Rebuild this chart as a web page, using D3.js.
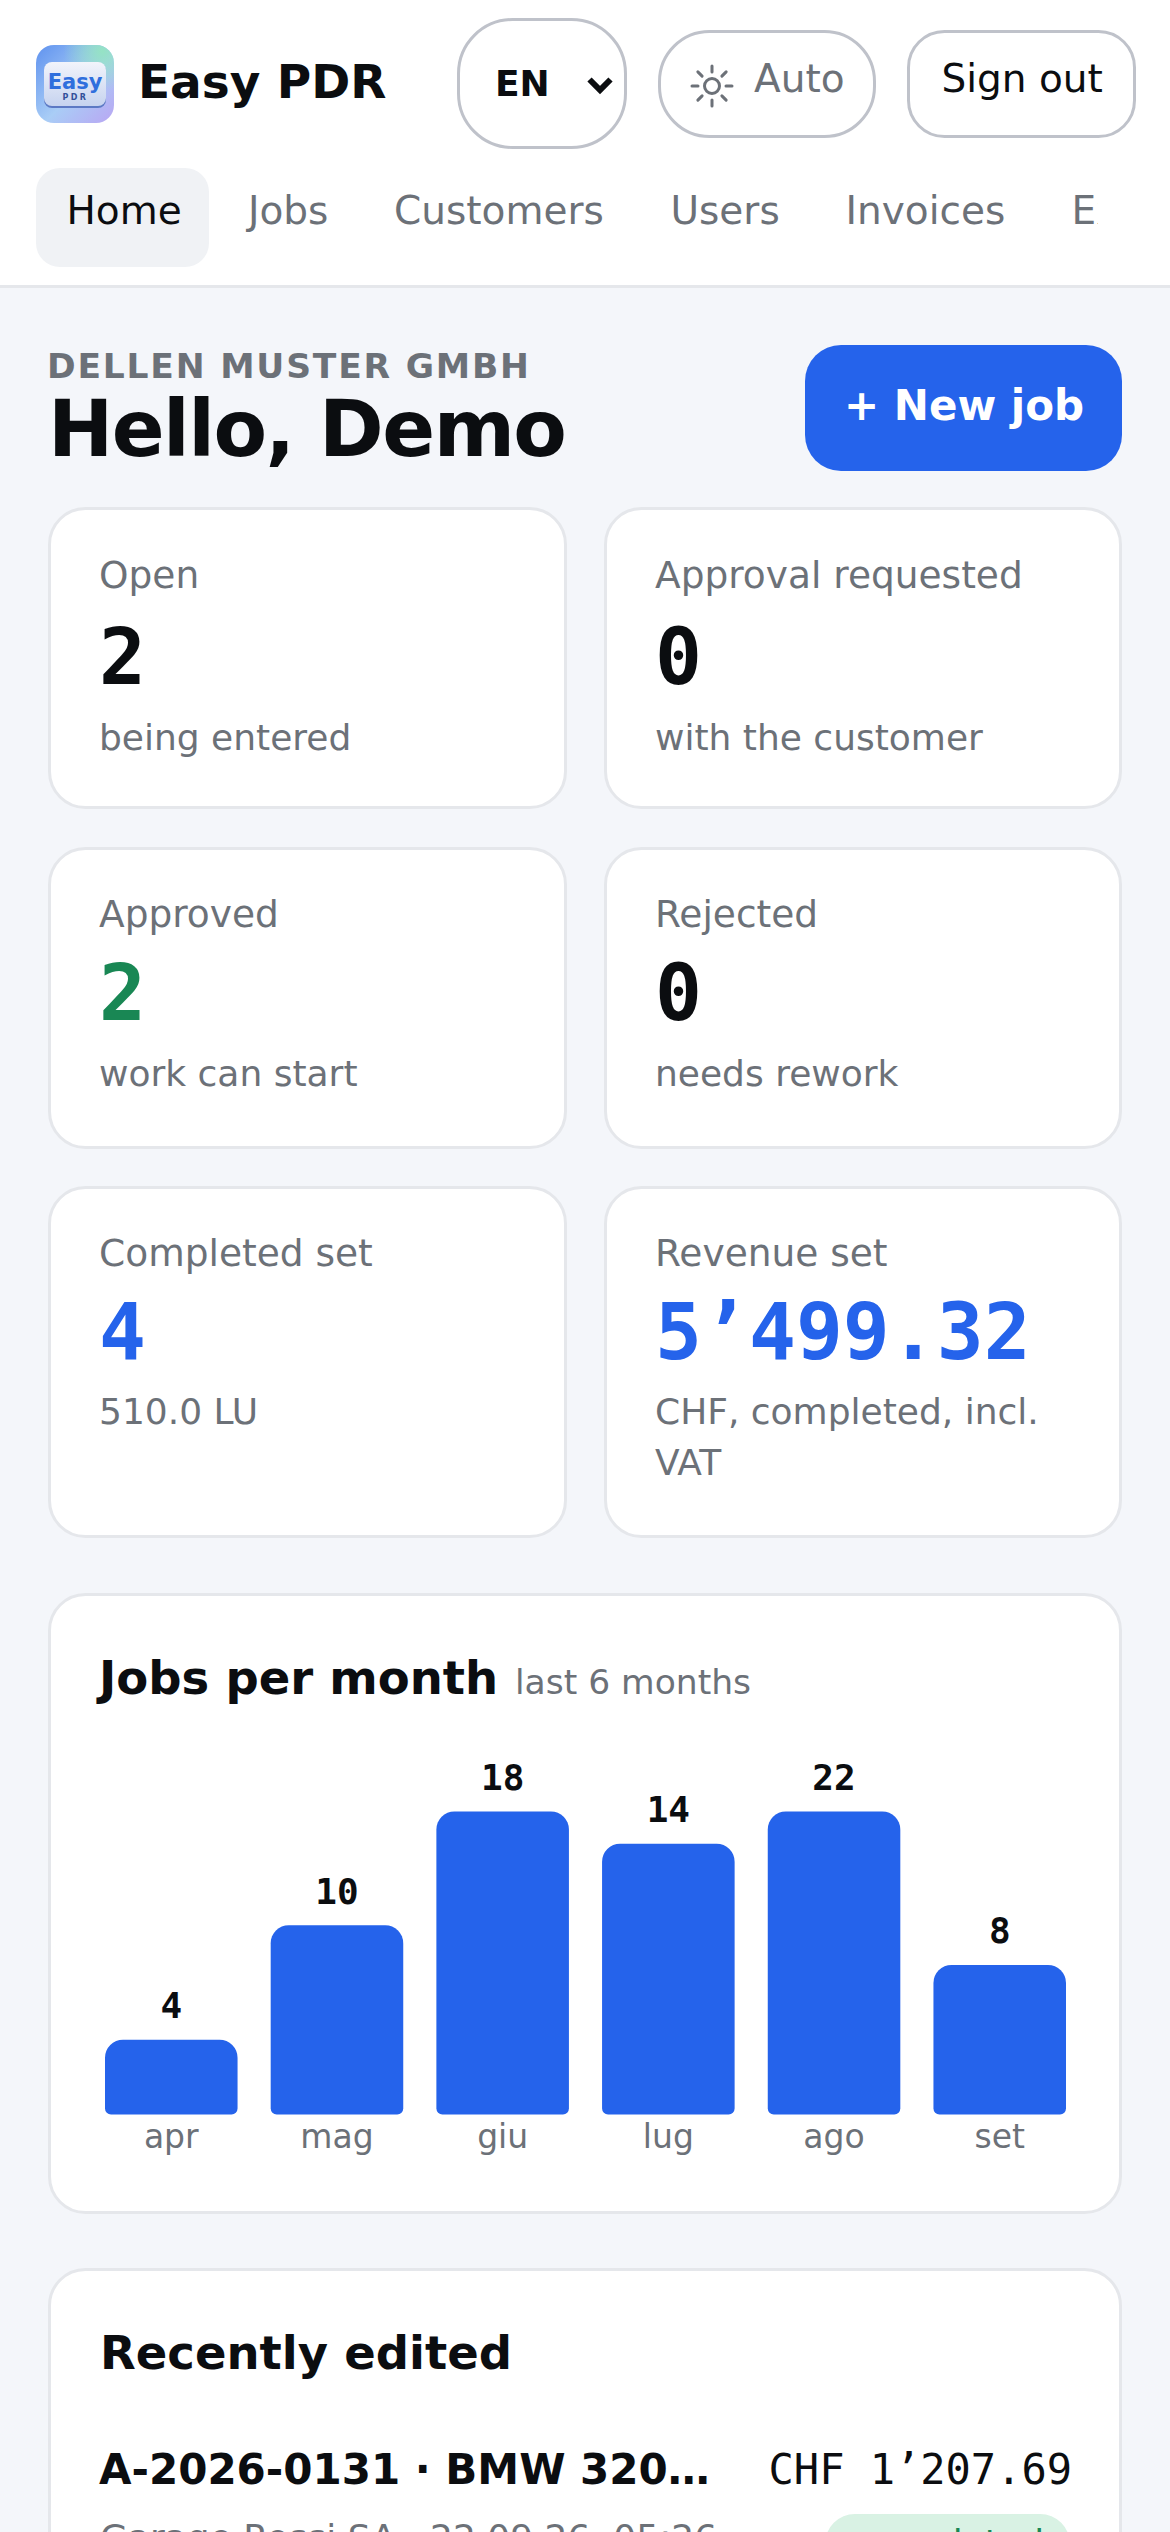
<!DOCTYPE html>
<html lang="en">
<head>
  <meta charset="UTF-8">
  <title>Easy PDR</title>
  <script src="https://d3js.org/d3.v7.min.js"></script>
  <style>
    html, body { margin: 0; background: #f4f6fa; overflow: hidden; }
    svg { display: block; }
    text { font-family: "DejaVu Sans", sans-serif; }
    .mono { font-family: "DejaVu Sans Mono", monospace; }
  </style>
</head>
<body>
  <div id="page"></div>

  <script>
    // chart data
    const months = ["apr", "mag", "giu", "lug", "ago", "set"];
    const jobCounts = [4, 10, 18, 14, 22, 8];
    // bar heights, they are capped near 16 jobs
    const barLevels = [3.95, 10, 16, 14.3, 16, 7.9];

    // stat cards
    const statLabels = ["Open", "Approval requested", "Approved", "Rejected", "Completed set", "Revenue set"];
    const statValues = ["2", "0", "2", "0", "4", "5’499.32"];
    const statNotes = [["being entered"], ["with the customer"], ["work can start"], ["needs rework"], ["510.0 LU"], ["CHF, completed, incl.", "VAT"]];
    const statColors = ["#0b0d10", "#0b0d10", "#198754", "#0b0d10", "#2563eb", "#2563eb"];

    // nav
    const navItems = ["Home", "Jobs", "Customers", "Users", "Invoices", "Exports"];
    const navX = [66.5, 248, 394, 670.5, 845.5, 1071.5];

    const width = 1170, height = 2532;
    const grey = "#6c7178", ink = "#0b0d10", blue = "#2563eb", line = "#e5e7eb";

    const svg = d3.select("#page").append("svg")
      .attr("width", width)
      .attr("height", height)
      .attr("viewBox", `0 0 ${width} ${height}`);

    const defs = svg.append("defs");

    // small helper for plain text
    function label(parent, str, x, y, size, color, opts = {}) {
      return parent.append("text")
        .attr("class", opts.cls || null)
        .attr("x", x)
        .attr("y", y)
        .attr("font-size", size)
        .attr("font-weight", opts.weight || 400)
        .attr("text-anchor", opts.anchor || "start")
        .attr("letter-spacing", opts.spacing || null)
        .attr("fill", color)
        .text(str);
    }

    function card(x, y, w, h) {
      svg.append("rect")
        .attr("x", x + 1.5).attr("y", y + 1.5)
        .attr("width", w - 3).attr("height", h - 3)
        .attr("rx", 36)
        .attr("fill", "#fff")
        .attr("stroke", line)
        .attr("stroke-width", 3);
    }

    // page background and header
    svg.append("rect").attr("width", width).attr("height", height).attr("fill", "#f4f6fa");
    svg.append("rect").attr("width", width).attr("height", 285).attr("fill", "#fff");
    svg.append("rect").attr("y", 285).attr("width", width).attr("height", 3).attr("fill", line);

    // logo
    const logoBase = defs.append("linearGradient").attr("id", "logoBase")
      .attr("x1", 0).attr("y1", 0).attr("x2", 1).attr("y2", 1);
    logoBase.append("stop").attr("offset", 0).attr("stop-color", "#5f92ef");
    logoBase.append("stop").attr("offset", 0.55).attr("stop-color", "#a9cdf6");
    logoBase.append("stop").attr("offset", 1).attr("stop-color", "#b9a6f3");
    const logoGreen = defs.append("radialGradient").attr("id", "logoGreen")
      .attr("cx", 0.85).attr("cy", 0.08).attr("r", 0.5);
    logoGreen.append("stop").attr("offset", 0).attr("stop-color", "#95e3c4");
    logoGreen.append("stop").attr("offset", 1).attr("stop-color", "#95e3c4").attr("stop-opacity", 0);
    const logoInner = defs.append("linearGradient").attr("id", "logoInner")
      .attr("x1", 0).attr("y1", 0).attr("x2", 0).attr("y2", 1);
    logoInner.append("stop").attr("offset", 0).attr("stop-color", "#f2f4fb");
    logoInner.append("stop").attr("offset", 1).attr("stop-color", "#c6d3ef");

    svg.append("rect").attr("x", 36).attr("y", 45).attr("width", 78).attr("height", 78).attr("rx", 18).attr("fill", "url(#logoBase)");
    svg.append("rect").attr("x", 36).attr("y", 45).attr("width", 78).attr("height", 78).attr("rx", 18).attr("fill", "url(#logoGreen)");
    svg.append("rect").attr("x", 44).attr("y", 63).attr("width", 62).attr("height", 45).attr("rx", 8).attr("fill", "#5c79c4");
    svg.append("rect").attr("x", 44).attr("y", 62).attr("width", 62).attr("height", 44).attr("rx", 8).attr("fill", "url(#logoInner)");
    label(svg, "Easy", 75, 89, 21, "#2f6fdd", { weight: 700, anchor: "middle" });
    label(svg, "PDR", 75.5, 100, 8, "#33509a", { weight: 700, anchor: "middle", spacing: 2.4 });

    label(svg, "Easy PDR", 138, 98, 47, ink, { weight: 700 });

    // header buttons
    [[457, 18, 170, 131, 54], [658, 30, 218, 108, 50], [907, 30, 229, 108, 36]].forEach(b => {
      svg.append("rect")
        .attr("x", b[0] + 1.5).attr("y", b[1] + 1.5)
        .attr("width", b[2] - 3).attr("height", b[3] - 3)
        .attr("rx", b[4])
        .attr("fill", "#fff")
        .attr("stroke", "#bfc2ca")
        .attr("stroke-width", 3);
    });
    label(svg, "EN", 495, 96, 36, ink, { weight: 700 });
    svg.append("path").attr("d", "M589.5 79.5L600 90L610.5 79.5").attr("fill", "none").attr("stroke", ink).attr("stroke-width", 6);

    // sun icon
    const sun = svg.append("g").attr("transform", "translate(712,86)");
    sun.append("circle").attr("r", 7.5).attr("fill", "none").attr("stroke", grey).attr("stroke-width", 3);
    sun.selectAll("line").data(d3.range(8)).join("line")
      .attr("x1", d => 14 * Math.cos(d * Math.PI / 4)).attr("y1", d => 14 * Math.sin(d * Math.PI / 4))
      .attr("x2", d => 20 * Math.cos(d * Math.PI / 4)).attr("y2", d => 20 * Math.sin(d * Math.PI / 4))
      .attr("stroke", grey).attr("stroke-width", 3).attr("stroke-linecap", "round");
    label(svg, "Auto", 754, 92, 39, grey);
    label(svg, "Sign out", 941.5, 92, 39, ink);

    // nav, the last item is cut by the scroll area
    defs.append("clipPath").attr("id", "navClip")
      .append("rect").attr("x", 0).attr("y", 160).attr("width", 1098).attr("height", 120);
    svg.append("rect").attr("x", 36).attr("y", 168).attr("width", 173).attr("height", 99).attr("rx", 24).attr("fill", "#f0f2f5");
    const nav = svg.append("g").attr("clip-path", "url(#navClip)");
    navItems.forEach((d, i) => label(nav, d, navX[i], 224, 39, i === 0 ? ink : grey));

    // greeting
    label(svg, "DELLEN MUSTER GMBH", 47, 378, 34.5, grey, { weight: 700, spacing: 1.8 });
    label(svg, "Hello, Demo", 48, 456, 78, ink, { weight: 700, spacing: -1.56 });
    svg.append("rect").attr("x", 805).attr("y", 345).attr("width", 317).attr("height", 126).attr("rx", 36).attr("fill", blue);
    label(svg, "+ New job", 844, 420, 42, "#fff", { weight: 700 });

    // stat cards
    const rows = [
      { top: 507, h: 302, label: 587.5, value: 683.5, note: 750 },
      { top: 847, h: 302, label: 927, value: 1020, note: 1085.5 },
      { top: 1186, h: 352, label: 1265.5, value: 1359, note: 1424 }
    ];
    statLabels.forEach((d, i) => {
      const r = rows[Math.floor(i / 2)];
      const x = i % 2 === 0 ? 48 : 604;
      card(x, r.top, i % 2 === 0 ? 519 : 518, r.h);
      label(svg, d, x + 51, r.label, 37.5, grey);
      label(svg, statValues[i], x + 51, r.value, 78, statColors[i], { cls: "mono", weight: 700 });
      statNotes[i].forEach((n, j) => label(svg, n, x + 51, r.note + j * 51, 36, grey));
    });

    // chart card
    card(48, 1593, 1074, 621);
    label(svg, "Jobs per month", 99, 1694, 46.5, ink, { weight: 700 });
    label(svg, "last 6 months", 515, 1694, 34.5, grey);

    const yBase = 2114.5, yTop = 1811.5;
    const x = d3.scaleBand().domain(months).range([105, 1066]).paddingInner(0.2);
    const y = d3.scaleLinear().domain([0, 16]).range([yBase, yTop]);

    // rounded on top, almost square at the bottom
    function barPath(x0, y0, w, y1, rt, rb) {
      const p = d3.path();
      p.moveTo(x0 + rt, y0);
      p.arcTo(x0 + w, y0, x0 + w, y0 + rt, rt);
      p.arcTo(x0 + w, y1, x0 + w - rb, y1, rb);
      p.arcTo(x0, y1, x0, y1 - rb, rb);
      p.arcTo(x0, y0, x0 + rt, y0, rt);
      p.closePath();
      return p.toString();
    }

    svg.append("g").selectAll("path")
      .data(months)
      .join("path")
      .attr("fill", blue)
      .attr("d", (d, i) => barPath(x(d), y(barLevels[i]), x.bandwidth(), yBase, 18, 6));

    svg.append("g").selectAll("text")
      .data(months)
      .join("text")
      .attr("class", "mono")
      .attr("x", d => x(d) + x.bandwidth() / 2)
      .attr("y", (d, i) => y(barLevels[i]) - 21.5)
      .attr("text-anchor", "middle")
      .attr("font-size", 36)
      .attr("font-weight", 700)
      .attr("fill", ink)
      .text((d, i) => jobCounts[i]);

    const xAxis = d3.axisBottom(x).tickSize(0).tickPadding(0);
    const axisG = svg.append("g").attr("transform", `translate(0, ${yBase})`).call(xAxis);
    axisG.select(".domain").remove();
    axisG.selectAll("text")
      .attr("y", 33.5)
      .attr("dy", null)
      .attr("font-size", 33)
      .attr("font-family", "DejaVu Sans")
      .attr("fill", grey);

    // recently edited, runs off the bottom of the screen
    card(48, 2268, 1074, 600);
    label(svg, "Recently edited", 100, 2369, 46.5, ink, { weight: 700 });
    label(svg, "A-2026-0131 · BMW 320…", 99, 2484, 42, ink, { weight: 700 });
    label(svg, "CHF 1’207.69", 1072, 2484, 42, ink, { cls: "mono", anchor: "end" });
    label(svg, "Garage Rossi SA · 22.09.26, 05:26", 100, 2550, 36, grey);
    svg.append("rect").attr("x", 825).attr("y", 2514).attr("width", 245).attr("height", 60).attr("rx", 30).attr("fill", "#d9f2e4");
    label(svg, "completed", 1044, 2555, 36, "#198754", { anchor: "end" });
  </script>
</body>
</html>
